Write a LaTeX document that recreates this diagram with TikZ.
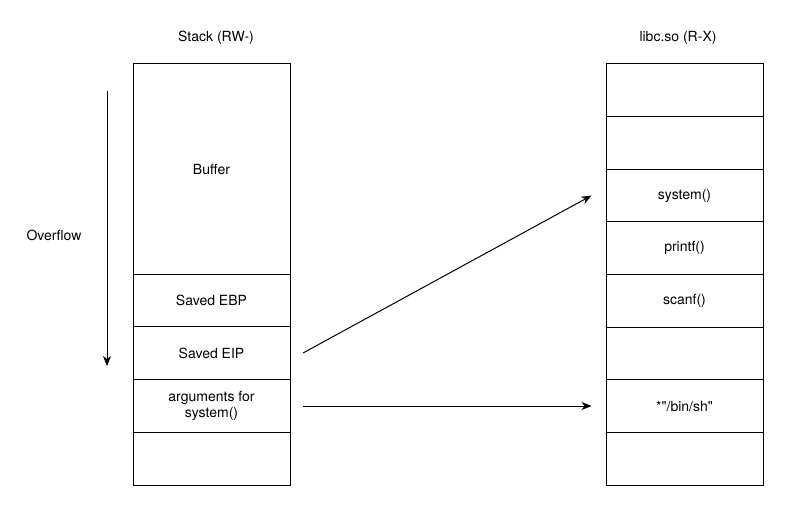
\documentclass[tikz,border=0pt]{standalone}
\usepackage{fontspec}
\setmainfont{TeX Gyre Heros}[Ligatures=TeXOff]
\usepackage{tikz}
\usetikzlibrary{arrows.meta}
\tikzstyle{cell}=[draw, line width=1pt, minimum width=157pt, inner sep=0pt, align=center]
\tikzstyle{ptr}=[line width=1pt, -{Stealth[length=10pt,width=8pt,inset=3pt]}]

\begin{document}
\begin{tikzpicture}[x=1pt, y=-1pt, font=\fontsize{14}{16}\selectfont]
\useasboundingbox (0,0) rectangle (800,516);
% stack frame
\node[cell, minimum height=210pt] (buf) at (211.5,169) {Buffer};
\foreach \n/\t/\y in {ebp/Saved EBP/300.375, eip/Saved EIP/353.125, args/{arguments for\\system()}/405.875, sbot//458.625} {
	\node[cell, minimum height=52.75pt] (\n) at (211.5,\y) {\t};
}
\node (stk) at (216,38) {Stack (RW-)};
% libc
\foreach \n/\t/\y in {l1//90.3125, l2//142.9375, sys/system()/195.5625, prt/printf()/248.1875, scn/scanf()/300.8125, l6//353.4375, binsh/{*"/bin/sh"}/406.0625, l8//458.6875} {
	\node[cell, minimum height=52.625pt] (\n) at (684.5,\y) {\t};
}
\node (lib) at (678,38) {libc.so (R-X)};
% overflow direction
\coordinate (ovtop) at (107,91);
\coordinate (ovbot) at (107,366);
\draw[ptr] (ovtop) -- (ovbot);
\node (ovf) at (54,235) {Overflow};
% pointers
\coordinate (eipout) at (303,353);
\coordinate (argout) at (303,406);
\draw[ptr] (eipout) -- ([xshift=-14pt]sys.west);
\draw[ptr] (argout) -- ([xshift=-14pt]binsh.west |- argout);
\end{tikzpicture}
\end{document}
